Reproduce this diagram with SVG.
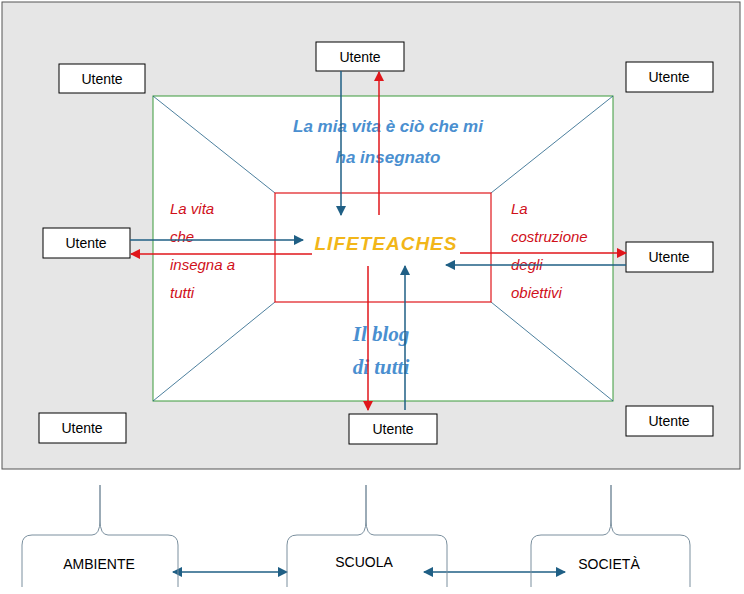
<svg xmlns="http://www.w3.org/2000/svg" width="744" height="594" viewBox="0 0 744 594">
<defs>
<marker id="ab" viewBox="0 0 10 10" refX="9" refY="5" markerWidth="7" markerHeight="7" orient="auto-start-reverse"><path d="M0,0L10,5L0,10z" fill="#1f5f85"/></marker>
<marker id="ar" viewBox="0 0 10 10" refX="9" refY="5" markerWidth="7" markerHeight="7" orient="auto"><path d="M0,0L10,5L0,10z" fill="#e0161b"/></marker>
</defs>
<style>
.box{fill:#fff;stroke:#000;stroke-width:1}
.t{font-family:"Liberation Sans",Arial,sans-serif;font-size:14px;fill:#000;text-anchor:middle}
.b{stroke:#1f5f85;stroke-width:1.5;fill:none;marker-end:url(#ab)}
.r{stroke:#e0161b;stroke-width:1.5;fill:none;marker-end:url(#ar)}
.red{font-family:"Liberation Sans",Arial,sans-serif;font-size:15px;font-style:italic;fill:#d0101a}
.blue{font-family:"Liberation Sans",Arial,sans-serif;font-size:18px;font-style:italic;font-weight:bold;fill:#4a8fd0;text-anchor:middle}
.br{fill:none;stroke:#7a8f9e;stroke-width:1}
</style>
<rect x="2" y="2" width="738" height="467" fill="#e6e6e6" stroke="#555" stroke-width="1"/>
<g id="frame">
<rect x="153" y="96" width="460" height="305" fill="#fff" stroke="#3a9a3a"/>
<path d="M153,96L275,193M613,96L491,193M153,401L275,302M613,401L491,302" stroke="#1f5f85" stroke-width="0.8"/>
<rect x="275" y="193" width="216" height="109" fill="#fff" stroke="#e0161b" stroke-width="1.2"/>
</g>
<g id="center"><text x="386" y="250" style="font-family:'Liberation Sans',Arial,sans-serif;font-size:19px;font-style:italic;font-weight:bold;fill:#f2b619;text-anchor:middle;letter-spacing:1px">LIFETEACHES</text></g>
<g id="labels">
<text class="blue" x="388" y="132" style="font-size:17px">La mia vita è ciò che mi</text>
<text class="blue" x="388" y="163" style="font-size:17px">ha insegnato</text>
<text class="blue" x="381" y="341" style="font-family:'Liberation Serif',serif;font-size:21px">Il blog</text>
<text class="blue" x="381" y="374" style="font-family:'Liberation Serif',serif;font-size:21px">di tutti</text>
<text class="red" x="170" y="214">La vita</text>
<text class="red" x="170" y="242">che</text>
<text class="red" x="170" y="270">insegna a</text>
<text class="red" x="170" y="298">tutti</text>
<text class="red" x="511" y="214">La</text>
<text class="red" x="511" y="242">costruzione</text>
<text class="red" x="511" y="270">degli</text>
<text class="red" x="511" y="298">obiettivi</text>
</g>
<g id="u1"><rect class="box" x="316" y="42" width="88" height="29"/><text class="t" x="360" y="62">Utente</text></g>
<g id="u2"><rect class="box" x="59" y="64" width="86" height="29"/><text class="t" x="102" y="84">Utente</text></g>
<g id="u3"><rect class="box" x="626" y="62" width="87" height="30"/><text class="t" x="669" y="82">Utente</text></g>
<g id="u4"><rect class="box" x="43" y="228" width="87" height="30"/><text class="t" x="86" y="248">Utente</text></g>
<g id="u5"><rect class="box" x="626" y="242" width="87" height="30"/><text class="t" x="669" y="262">Utente</text></g>
<g id="u6"><rect class="box" x="39" y="413" width="87" height="30"/><text class="t" x="82" y="433">Utente</text></g>
<g id="u7"><rect class="box" x="349" y="414" width="88" height="30"/><text class="t" x="393" y="434">Utente</text></g>
<g id="u8"><rect class="box" x="626" y="406" width="87" height="30"/><text class="t" x="669" y="426">Utente</text></g>
<g id="connectors">
<path class="b" d="M341,71V215"/>
<path class="r" d="M379,215V72"/>
<path class="b" d="M130,240H303"/>
<path class="r" d="M312,254H131"/>
<path class="r" d="M460,253H626"/>
<path class="b" d="M626,265H446"/>
<path class="r" d="M368,266V410"/>
<path class="b" d="M405,410V266"/>
<path class="b" d="M287,572H173" style="marker-start:url(#ab)"/>
<path class="b" d="M565,572H424" style="marker-start:url(#ab)"/>
</g>
<g id="ambiente"><path class="br" d="M22,587V545Q22,535 32,535H92Q100,535 100,520V485M100,485V520Q100,535 108,535H168Q178,535 178,545V587"/><text class="t" x="99" y="569">AMBIENTE</text></g>
<g id="scuola"><path class="br" d="M287,587V545Q287,535 297,535H358Q366,535 366,520V485M366,485V520Q366,535 374,535H437Q447,535 447,545V587"/><text class="t" x="364" y="567">SCUOLA</text></g>
<g id="societa"><path class="br" d="M531,587V545Q531,535 541,535H603Q611,535 611,520V485M611,485V520Q611,535 619,535H680Q690,535 690,545V587"/><text class="t" x="609" y="569">SOCIETÀ</text></g>
</svg>
